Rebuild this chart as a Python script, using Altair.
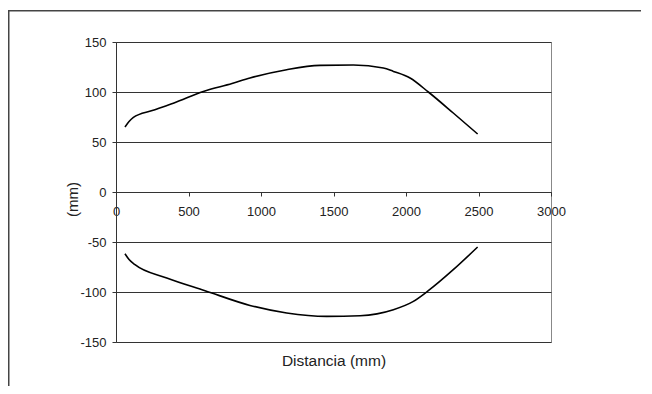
import altair as alt
import pandas as pd

# Upper envelope (mm)
x_upper = [62, 90, 120, 250, 400, 602, 800, 924, 1177, 1407, 1637, 1844, 1913, 2028, 2154, 2326, 2494]
y_upper = [65, 70.5, 74.6, 81.5, 89, 100.6, 108.5, 114, 122.3, 126.6, 127, 124, 120.6, 114, 100, 79, 58]

# Lower envelope (mm)
x_lower = [62, 90, 131, 350, 614, 924, 1177, 1453, 1683, 1913, 2051, 2154, 2326, 2494]
y_lower = [-61.7, -67.5, -72.7, -86, -98.7, -113.4, -121, -124.4, -123.7, -117.7, -109.4, -98.7, -77.7, -55]

x_ticks = [0, 500, 1000, 1500, 2000, 2500, 3000]
y_ticks = [-150, -100, -50, 0, 50, 100, 150]

df = pd.concat([
    pd.DataFrame({"x": x_upper, "y": y_upper, "serie": "superior"}),
    pd.DataFrame({"x": x_lower, "y": y_lower, "serie": "inferior"}),
])

FONT = "Liberation Sans"
one = alt.Data(values=[{"k": 1}])

frame_top = alt.Chart(one).mark_rule(color="#444444", strokeWidth=1.5).encode(
    x=alt.value(-107.25), x2=alt.value(700), y=alt.value(-31.3)
)
frame_left = alt.Chart(one).mark_rule(color="#444444", strokeWidth=1.5).encode(
    x=alt.value(-107.25), y=alt.value(-32), y2=alt.value(500)
)

lines = alt.Chart(df).mark_line(
    color="black", strokeWidth=1.6, interpolate="monotone"
).encode(
    x=alt.X("x:Q", scale=alt.Scale(domain=[0, 3000], nice=False),
            axis=alt.Axis(values=x_ticks, offset=-150, grid=False, tickSize=4,
                          labelPadding=9, labelFlush=False, labelFontSize=13,
                          labelExpr="'' + datum.value",
                          labelFont=FONT, labelColor="#222222",
                          domainColor="#333333", tickColor="#333333",
                          title="Distancia (mm)", titleFont=FONT, titleFontSize=15.5,
                          titleFontWeight="normal", titleColor="#222222",
                          titleX=217.5, titleY=168, titleBaseline="middle",
                          titleAlign="center")),
    y=alt.Y("y:Q", scale=alt.Scale(domain=[-150, 150], nice=False),
            axis=alt.Axis(values=y_ticks, grid=True, gridColor="#333333",
                          gridOpacity=1, tickSize=4, labelPadding=6,
                          labelExpr="'' + datum.value",
                          labelFontSize=13, labelFont=FONT, labelColor="#222222",
                          domainColor="#333333", tickColor="#333333",
                          title="(mm)", titleFont=FONT, titleFontSize=15,
                          titleFontWeight="normal", titleColor="#222222",
                          titleAngle=270, titleX=-44, titleY=157,
                          titleBaseline="middle", titleAlign="center")),
    detail="serie:N",
)

chart = alt.layer(frame_top, frame_left, lines).properties(
    width=435, height=300,
    autosize=alt.AutoSizeParams(type="none"),
    padding={"left": 108, "top": 34, "right": 90, "bottom": 44},
    background="white",
).configure_view(stroke="#888888", strokeWidth=1)

chart.save("out.html", embed_options={"renderer": "svg", "actions": False})
